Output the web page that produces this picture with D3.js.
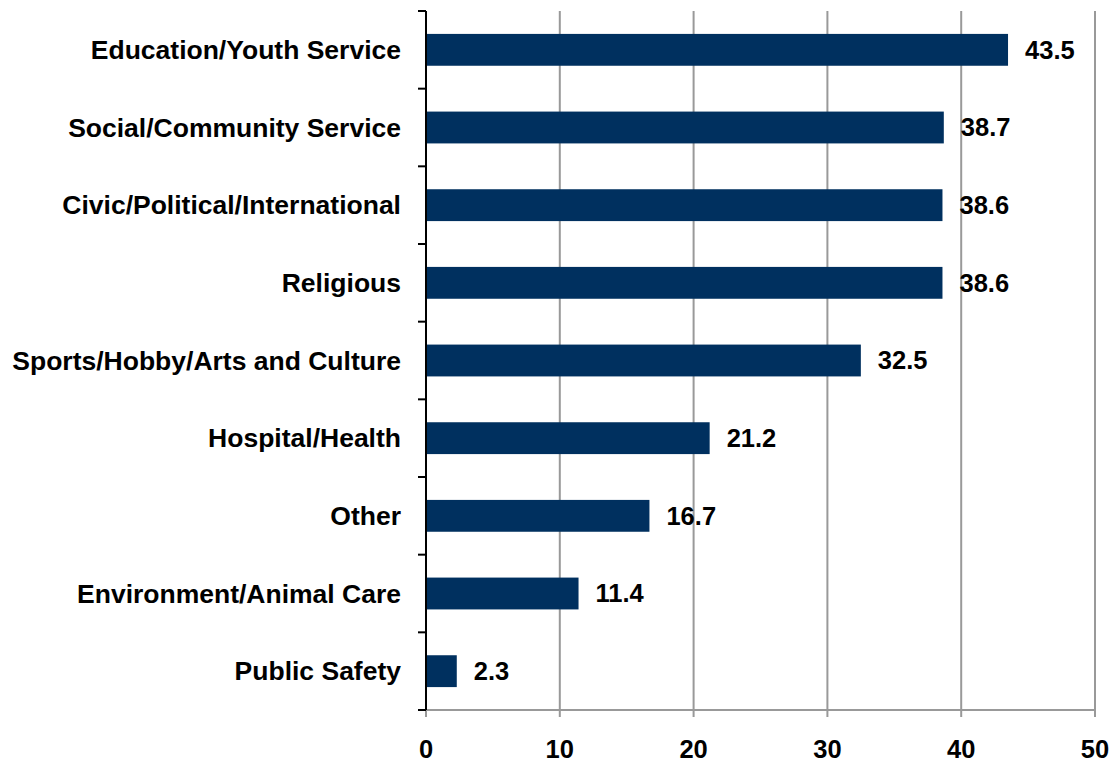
<!DOCTYPE html>
<html><head><meta charset="utf-8">
<script src="https://cdn.jsdelivr.net/npm/d3@7"></script>
<style>body{margin:0;background:#fff}svg text{font-family:"Liberation Sans",Arial,sans-serif;font-weight:bold}</style>
</head><body><svg id="c" width="1113" height="762"></svg>
<script>
const categories = ["Education/Youth Service","Social/Community Service","Civic/Political/International","Religious","Sports/Hobby/Arts and Culture","Hospital/Health","Other","Environment/Animal Care","Public Safety"];
const values = [43.5,38.7,38.6,38.6,32.5,21.2,16.7,11.4,2.3];
const xTicks = [0,10,20,30,40,50];

(function(){
const svg = d3.select("#c");
const mLeft = 426, mRight = 1095, mTop = 11, mBottom = 710;
const x = d3.scaleLinear().domain([0,50]).range([mLeft,mRight]);
const y = d3.scaleBand().domain(categories).range([mTop,mBottom]).paddingInner(0.59).paddingOuter(0.295);
const yb = d3.scaleLinear().domain([0,categories.length]).range([mTop,mBottom]);

// gridlines
svg.append("g").selectAll("line").data(xTicks.slice(1)).join("line")
  .attr("x1",d=>x(d)).attr("x2",d=>x(d)).attr("y1",mTop).attr("y2",mBottom+7)
  .attr("stroke","#999").attr("stroke-width",2);
// x axis line
svg.append("line").attr("x1",mLeft).attr("x2",mRight+1).attr("y1",mBottom).attr("y2",mBottom)
  .attr("stroke","#999").attr("stroke-width",2);
svg.append("line").attr("x1",x(0)).attr("x2",x(0)).attr("y1",mBottom).attr("y2",mBottom+7)
  .attr("stroke","#999").attr("stroke-width",2);

// bars
svg.append("g").selectAll("rect").data(values).join("rect")
  .attr("x",x(0)).attr("y",(d,i)=>y(categories[i])).attr("width",d=>x(d)-x(0)).attr("height",y.bandwidth())
  .attr("fill","#00305f");

// y axis
svg.append("line").attr("x1",mLeft).attr("x2",mLeft).attr("y1",mTop).attr("y2",mBottom)
  .attr("stroke","#000").attr("stroke-width",2);
svg.append("g").selectAll("line").data(d3.range(categories.length+1)).join("line")
  .attr("x1",mLeft-8).attr("x2",mLeft).attr("y1",d=>yb(d)).attr("y2",d=>yb(d))
  .attr("stroke","#000").attr("stroke-width",2);

// category labels
svg.append("g").selectAll("text").data(categories).join("text")
  .attr("x",401).attr("y",d=>y(d)+y.bandwidth()/2).attr("dy","0.35em")
  .attr("text-anchor","end").attr("font-size",26.5).attr("fill","#000").text(d=>d);

// value labels
svg.append("g").selectAll("text").data(values).join("text")
  .attr("x",d=>x(d)+17).attr("y",(d,i)=>y(categories[i])+y.bandwidth()/2).attr("dy","0.35em")
  .attr("font-size",25.5).attr("fill","#000").text(d=>d.toFixed(1));

// x tick labels
svg.append("g").selectAll("text").data(xTicks).join("text")
  .attr("x",d=>x(d)).attr("y",749).attr("dy","0.35em").attr("text-anchor","middle")
  .attr("font-size",25.5).attr("fill","#000").text(d=>d);
})();
</script></body></html>
